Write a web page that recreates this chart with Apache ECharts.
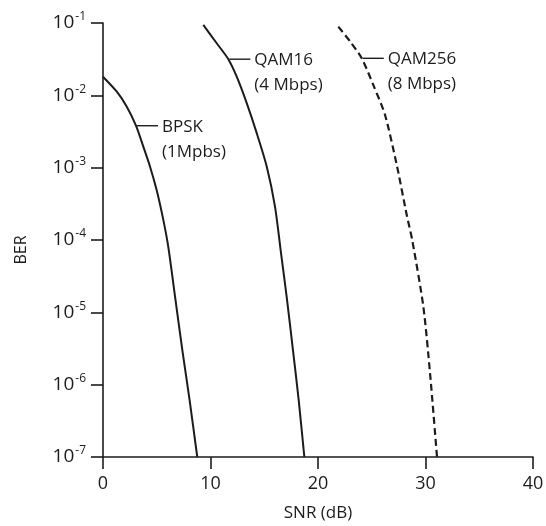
<!DOCTYPE html>
<html><head><meta charset="utf-8">
<script src="https://cdn.jsdelivr.net/npm/echarts@6/dist/echarts.min.js"></script>
<style>html,body{margin:0;padding:0;background:#fff}#c{width:546px;height:526px}</style>
</head><body><div id="c"></div>
<script>
// ---- data ----
const xTicks = [0, 10, 20, 30, 40];
const yExponents = [-7, -6, -5, -4, -3, -2, -1];

const bpskSnr = [0, 1.27, 2.20, 3.07, 3.75, 4.37, 4.99, 5.61, 6.07, 6.74, 7.38, 8.05, 8.77];
const bpskBer = [0.0181, 0.0113, 0.0070, 0.0038, 0.00195, 0.00104, 4.9e-4, 1.9e-4, 8.1e-5, 1.5e-5, 3.0e-6, 6.2e-7, 1e-7];

const qam16Snr = [9.33, 10.58, 11.66, 12.44, 13.37, 14.30, 15.23, 16.00, 16.56, 17.12, 17.67, 18.20, 18.73];
const qam16Ber = [0.094, 0.0525, 0.0316, 0.0181, 0.0078, 0.0030, 0.00104, 2.9e-4, 6.6e-5, 1.49e-5, 3.0e-6, 6.2e-7, 1e-7];

const qam256Snr = [21.89, 23.02, 24.07, 25.18, 26.23, 27.32, 28.26, 28.78, 29.80, 30.42, 31.07];
const qam256Ber = [0.089, 0.0547, 0.0325, 0.0135, 0.0054, 0.0011, 2.2e-4, 9.7e-5, 1.2e-5, 1.45e-6, 1e-7];

const labelNames = ['BPSK', 'QAM16', 'QAM256'];
const labelRates = ['(1Mpbs)', '(4 Mbps)', '(8 Mbps)'];
const labelAnchorSnr = [3.07, 11.66, 24.07];
const labelAnchorBer = [0.0038, 0.0316, 0.0325];

// ---- chart ----
const FONT = '"Open Sans", "Noto Sans", sans-serif';
const INK = '#1c1c1c';
const pairs = (xs, ys) => xs.map((x, i) => [x, ys[i]]);

const chart = echarts.init(document.getElementById('c'), null, {renderer: 'canvas'});
const lineBase = {type: 'line', showSymbol: false, symbol: 'none', smooth: 0.25, silent: true};

chart.setOption({
  backgroundColor: '#fff',
  animation: false,
  textStyle: {fontFamily: FONT, color: INK},
  grid: {left: 103, right: 13, top: 23, bottom: 69, containLabel: false, outerBoundsMode: 'none'},
  xAxis: {
    type: 'value', min: xTicks[0], max: xTicks[xTicks.length - 1], interval: 10,
    name: 'SNR (dB)', nameLocation: 'middle', nameGap: 48,
    nameTextStyle: {fontSize: 17, color: INK, fontFamily: FONT},
    axisLine: {lineStyle: {color: INK, width: 1.6}},
    axisTick: {show: true, inside: false, length: 12, lineStyle: {color: INK, width: 1.6}},
    axisLabel: {fontSize: 18, color: INK, margin: 18, fontFamily: FONT},
    splitLine: {show: false}
  },
  yAxis: {
    type: 'log', logBase: 10, min: Math.pow(10, yExponents[0]), max: Math.pow(10, yExponents[yExponents.length - 1]),
    name: 'BER', nameLocation: 'middle', nameGap: 74, nameRotate: 90,
    nameTextStyle: {fontSize: 16, color: INK, fontFamily: FONT, padding: [0, 20, 0, 0]},
    axisLine: {lineStyle: {color: INK, width: 1.6}},
    axisTick: {show: true, inside: false, length: 12, lineStyle: {color: INK, width: 1.6}},
    axisLabel: {
      margin: 17,
      formatter: v => '{a|10}{s|-' + Math.abs(Math.round(Math.log10(v))) + '}',
      rich: {
        a: {fontSize: 19, color: INK, fontFamily: FONT},
        s: {fontSize: 12, color: INK, fontFamily: FONT, padding: [0, 0, 12, 1]}
      }
    },
    splitLine: {show: false}
  },
  series: [
    Object.assign({}, lineBase, {name: 'BPSK', data: pairs(bpskSnr, bpskBer), lineStyle: {color: INK, width: 2}}),
    Object.assign({}, lineBase, {name: 'QAM16', data: pairs(qam16Snr, qam16Ber), lineStyle: {color: INK, width: 2}}),
    Object.assign({}, lineBase, {name: 'QAM256', data: pairs(qam256Snr, qam256Ber), lineStyle: {color: INK, width: 2.2, type: [7, 4]}})
  ]
});

const graphics = [];
labelNames.forEach((n, i) => {
  const p = chart.convertToPixel({xAxisIndex: 0, yAxisIndex: 0}, [labelAnchorSnr[i], labelAnchorBer[i]]);
  graphics.push({type: 'line', silent: true, shape: {x1: p[0] + 1, y1: p[1], x2: p[0] + 22, y2: p[1]}, style: {stroke: INK, lineWidth: 1.4}});
  graphics.push({type: 'text', silent: true, x: p[0] + 26, y: p[1] + 1, style: {text: n, font: '17px ' + FONT, fill: INK, verticalAlign: 'middle', align: 'left'}});
  graphics.push({type: 'text', silent: true, x: p[0] + 26, y: p[1] + 26, style: {text: labelRates[i], font: '17px ' + FONT, fill: INK, verticalAlign: 'middle', align: 'left'}});
});
chart.setOption({graphic: graphics});
</script>
</body></html>
